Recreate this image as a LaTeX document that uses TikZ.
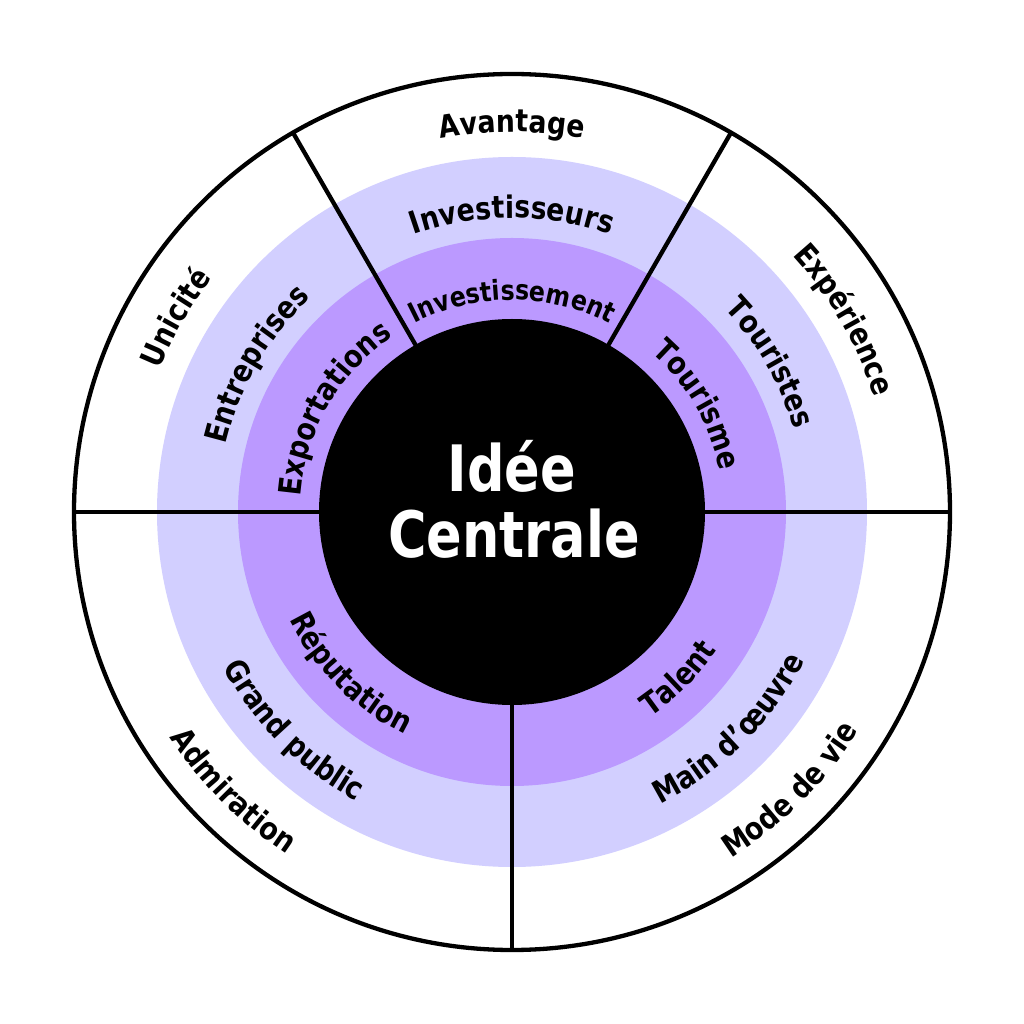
\documentclass[tikz,border=0pt]{standalone}
\usepackage{fontspec}
\usetikzlibrary{decorations.text}
\newfontfamily\lblfont{DejaVu Sans}[FakeStretch=0.86]
\newfontfamily\ctrfont{DejaVu Sans}[FakeStretch=0.82]
\definecolor{ringlight}{HTML}{D2CFFF}
\definecolor{ringmid}{HTML}{BB99FF}
\newcommand\fOut{\lblfont\bfseries\fontsize{31}{37}\selectfont}
\newcommand\fIn{\lblfont\bfseries\fontsize{31}{37}\selectfont}
\newcommand\fSmall{\lblfont\bfseries\fontsize{27.5}{32}\selectfont}
\newcommand\arclabel[5]{%
  \path[decorate,decoration={text along path,text align=center,text={|#4|#5}}]
    (#2:#1) arc[start angle=#2,end angle=#3,radius=#1];}
\tikzset{divider/.style={line width=4.3pt,line cap=butt}}
\begin{document}
\begin{tikzpicture}[x=1pt,y=1pt]
\useasboundingbox (-512,-512) rectangle (512,512);
\fill[white] (-512,-512) rectangle (512,512);
% rings
\draw[line width=4.3pt,fill=white] (0,0) circle[radius=438];
\fill[ringlight] (0,0) circle[radius=355];
\fill[ringmid] (0,0) circle[radius=274];
\fill[black] (0,0) circle[radius=193];
% dividers
\foreach \a in {0,60,120,180,270}
  \draw[divider] (\a:190) -- (\a:437);
% centre
\node[anchor=base,text=white,inner sep=0pt,font=\ctrfont\bfseries\fontsize{64}{66}\selectfont] (idee) at (0,20) {Idée};
\node[anchor=base,text=white,inner sep=0pt,font=\ctrfont\bfseries\fontsize{64}{66}\selectfont] (centrale) at (2,-46) {Centrale};
% top sector
\arclabel{380}{120}{60}{\fOut}{Avantage}
\arclabel{294}{120}{60}{\fOut}{Investisseurs}
\arclabel{212}{120}{60}{\fSmall}{Investissement}
% right sector
\arclabel{380}{60}{0}{\fOut}{Expérience}
\arclabel{294}{60}{0}{\fOut}{Touristes}
\arclabel{212}{60}{0}{\fIn}{Tourisme}
% left sector
\arclabel{380}{180}{120}{\fOut}{Unicité}
\arclabel{294}{180}{120}{\fOut}{Entreprises}
\arclabel{212}{180}{120}{\fIn}{Exportations}
% bottom-left sector
\arclabel{410}{180}{270}{\fOut}{Admiration}
\arclabel{328}{180}{270}{\fOut}{Grand public}
\arclabel{247}{180}{270}{\fIn}{Réputation}
% bottom-right sector
\arclabel{410}{270}{360}{\fOut}{Mode de vie}
\arclabel{328}{270}{360}{\fOut}{Main d’œuvre}
\arclabel{247}{270}{360}{\fIn}{Talent}
\end{tikzpicture}
\end{document}
